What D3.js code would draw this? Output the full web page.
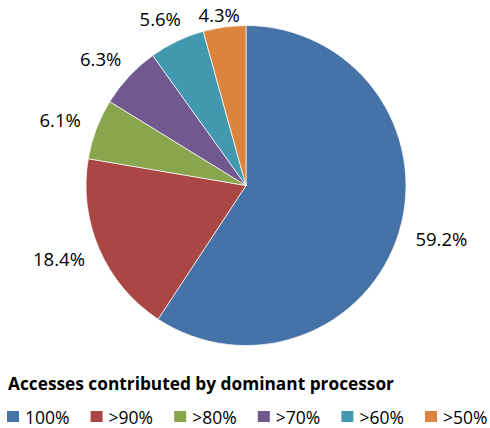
<!DOCTYPE html>
<html lang="en">
<head>
<meta charset="UTF-8">
<title>Dominant processor pie</title>
<script src="https://d3js.org/d3.v7.min.js"></script>
<style>
  body { margin: 0; background: #fff; }
  svg text { font-family: "Open Sans", "Noto Sans", sans-serif; fill: #000; }
</style>
</head>
<body>
<svg id="chart" width="490" height="428"></svg>
<script>
// data
var categories = ["100%", ">90%", ">80%", ">70%", ">60%", ">50%"];
var shares = [59.2, 18.4, 6.1, 6.3, 5.6, 4.3];
var labels = ["59.2%", "18.4%", "6.1%", "6.3%", "5.6%", "4.3%"];
var colors = ["#4572A7", "#AA4643", "#89A54E", "#71588F", "#4198AF", "#DB843D"];
var title = "Accesses contributed by dominant processor";

var svg = d3.select("#chart");
var cx = 246, cy = 185.5, radius = 160;

var pie = d3.pie().sort(null).value(function(d){ return d; });
var arc = d3.arc().innerRadius(0).outerRadius(radius);
var arcs = pie(shares);

var g = svg.append("g").attr("transform", "translate(" + cx + "," + cy + ")");

g.selectAll("path").data(arcs).enter().append("path")
  .attr("d", arc)
  .attr("fill", function(d, i){ return colors[i]; })
  .attr("stroke", "#fff")
  .attr("stroke-width", 0.7);

// outside-end labels: anchor a bit past the rim, then push the box outward
var labelR = 178;
var lab = g.selectAll("text.lab").data(arcs).enter().append("text")
  .attr("class", "lab")
  .style("font-size", "18.5px")
  .attr("text-anchor", "middle")
  .text(function(d, i){ return labels[i]; });

lab.each(function(d){
  var a = (d.startAngle + d.endAngle) / 2;
  var s = Math.sin(a), c = Math.cos(a);
  var w = this.getComputedTextLength(), h = 14;
  var x = labelR * s + (w / 2) * s;
  var y = -labelR * c - (h / 2) * c;
  y = Math.max(y, 15 - cy);  // keep inside the chart area
  d3.select(this).attr("x", x).attr("y", y + h / 2);
});

// legend
svg.append("text")
  .attr("x", 8).attr("y", 390)
  .style("font-size", "17.3px")
  .style("font-weight", "bold")
  .text(title);

var lx = d3.scalePoint().domain(categories).range([7, 425]);

var item = svg.selectAll("g.leg").data(categories).enter().append("g")
  .attr("class", "leg")
  .attr("transform", function(d){ return "translate(" + lx(d) + ",0)"; });

item.append("rect")
  .attr("x", 0).attr("y", 411)
  .attr("width", 12).attr("height", 11)
  .attr("fill", function(d, i){ return colors[i]; });

item.append("text")
  .attr("x", 18).attr("y", 423.5)
  .style("font-size", "17.5px")
  .text(function(d){ return d; });
</script>
</body>
</html>
